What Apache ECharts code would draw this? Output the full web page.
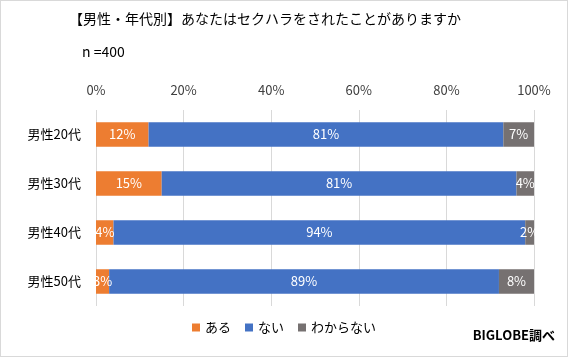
<!DOCTYPE html>
<html><head><meta charset="utf-8">
<script src="https://cdn.jsdelivr.net/npm/echarts@6/dist/echarts.min.js"></script>
<style>html,body{margin:0;padding:0;background:#fff}#c{width:566px;height:355px;border:1px solid #d9d9d9}</style>
</head><body><div id="c"></div>
<script>
const categories = ['男性20代','男性30代','男性40代','男性50代'];
const aru = [12, 15, 4, 3];
const nai = [81, 81, 94, 89];
const wakaranai = [7, 4, 2, 8];
const seriesNames = ['ある','ない','わからない'];
const colors = ['#ED7D31','#4472C4','#767171'];
const tickValues = [0,20,40,60,80,100];

const ch = echarts.init(document.getElementById('c'));
const font = '"Noto Sans CJK JP", sans-serif';
const lbl = {show:true, color:'#fff', fontSize:13, fontFamily:font, formatter: p => p.value + '%'};
const data = [aru, nai, wakaranai];
ch.setOption({
  animation:false,
  textStyle:{fontFamily:font},
  title:[
    {text:'【男性・年代別】あなたはセクハラをされたことがありますか', left:63, top:6, textStyle:{fontSize:14, fontWeight:'normal', color:'#000', fontFamily:font}},
    {text:'n =400', left:76, top:39, textStyle:{fontSize:14, fontWeight:'normal', color:'#000', fontFamily:font}}
  ],
  graphic:[{type:'text', right:12, top:328, style:{text:'BIGLOBE調べ', font:'bold 13px "Noto Sans CJK JP", sans-serif', fill:'#000'}}],
  legend:{bottom:17, left:'center', itemWidth:8, itemHeight:8, itemGap:14, icon:'rect',
    textStyle:{fontSize:13, color:'#000', fontFamily:font}, data:seriesNames},
  grid:{left:95, right:33, top:109, bottom:50},
  xAxis:{type:'value', position:'top', min:0, max:100, interval:20,
    axisLabel:{formatter: v => v + '%', color:'#404040', fontSize:13, margin:13},
    splitLine:{lineStyle:{color:'#d9d9d9'}}, axisLine:{show:false}, axisTick:{show:false}},
  yAxis:{type:'category', inverse:true, data:categories,
    axisLabel:{color:'#000', fontSize:13, margin:15}, axisLine:{show:false}, axisTick:{show:false}},
  series: seriesNames.map((n,i)=>({
    name:n, type:'bar', stack:'t', barCategoryGap:'50%', data:data[i],
    itemStyle:{color:colors[i]}, label:lbl
  }))
});
</script></body></html>
